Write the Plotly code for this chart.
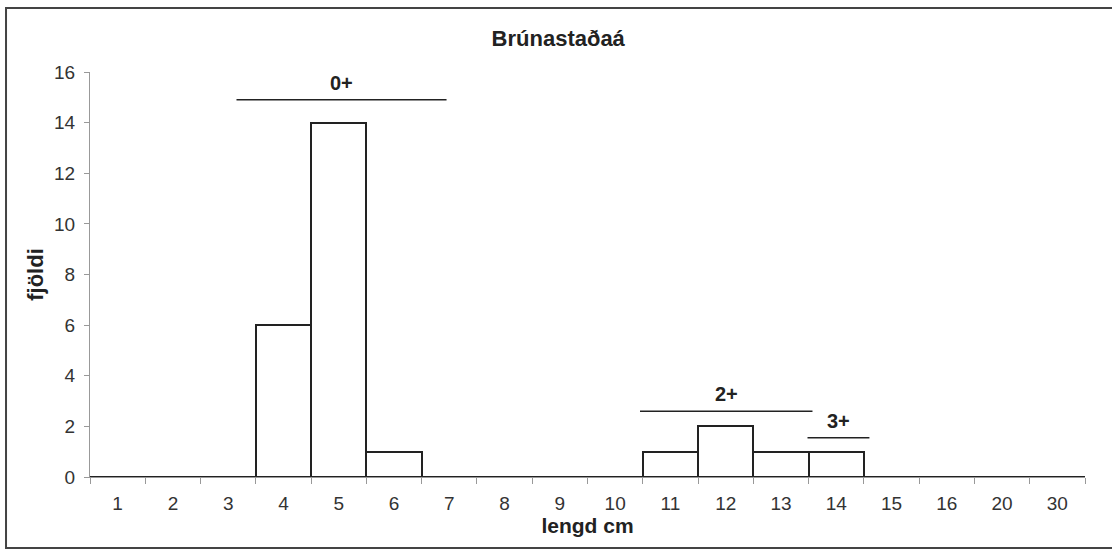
import plotly.graph_objects as go

# length classes (cm) and counts
lengths = ["1", "2", "3", "4", "5", "6", "7", "8", "9", "10",
           "11", "12", "13", "14", "15", "16", "20", "30"]
counts = [0, 0, 0, 6, 14, 1, 0, 0, 0, 0,
          1, 2, 1, 1, 0, 0, 0, 0]

# age groups drawn as lines above the bars (span in class-index units, height in counts)
age_groups = ["0+", "2+", "3+"]
group_from = [2.15, 9.45, 12.48]
group_to = [5.95, 12.57, 13.6]
group_level = [14.9, 2.6, 1.55]

fig = go.Figure()

fig.add_trace(go.Bar(
    x=lengths,
    y=counts,
    marker=dict(color='white', line=dict(color='#222222', width=2)),
    hoverinfo='none',
))

for label, x0, x1, level in zip(age_groups, group_from, group_to, group_level):
    fig.add_shape(type='line', xref='x', yref='y', x0=x0, x1=x1, y0=level, y1=level,
                  line=dict(color='#222222', width=1.5))
    fig.add_annotation(x=(x0 + x1) / 2, y=level, xref='x', yref='y', text=f"<b>{label}</b>",
                       showarrow=False, yanchor='bottom', yshift=4,
                       font=dict(size=20, color='#222222'))

# outer frame (right edge runs off the picture)
fig.add_shape(type='rect', xref='paper', yref='paper', x0=-0.0844, x1=1.04, y0=-0.175, y1=1.158,
              line=dict(color='#444444', width=2))

fig.update_layout(
    width=1112,
    height=558,
    margin=dict(l=90, r=27, t=72, b=81),
    plot_bgcolor='white',
    paper_bgcolor='white',
    showlegend=False,
    bargap=0,
    font=dict(family='Liberation Sans, Arial, sans-serif', color='#222222', size=18),
    title=dict(text='<b>Brúnastaðaá</b>', x=0.502, xanchor='center', y=0.932, yanchor='middle',
               font=dict(size=22, color='#222222')),
    xaxis=dict(
        type='category',
        range=[-0.5, 17.5],
        tickson='boundaries',
        ticks='outside',
        ticklen=6,
        tickcolor='#999999',
        showline=True,
        linecolor='#999999',
        linewidth=1,
        showgrid=False,
        ticklabelstandoff=9,
        tickfont=dict(size=19, color='#333333'),
        title=dict(text='<b>lengd cm</b>', standoff=1, font=dict(size=21, color='#222222')),
    ),
    yaxis=dict(
        range=[0, 16],
        dtick=2,
        ticks='outside',
        ticklen=5,
        tickcolor='#999999',
        showline=True,
        linecolor='#999999',
        linewidth=1,
        showgrid=False,
        zeroline=False,
        ticklabelstandoff=5,
        tickfont=dict(size=19, color='#333333'),
        title=dict(text='<b>fjöldi</b>', standoff=4, font=dict(size=22, color='#222222')),
    ),
)

fig.write_html("out.html", config={'displayModeBar': False},
               post_script="document.body.style.margin='0';")
